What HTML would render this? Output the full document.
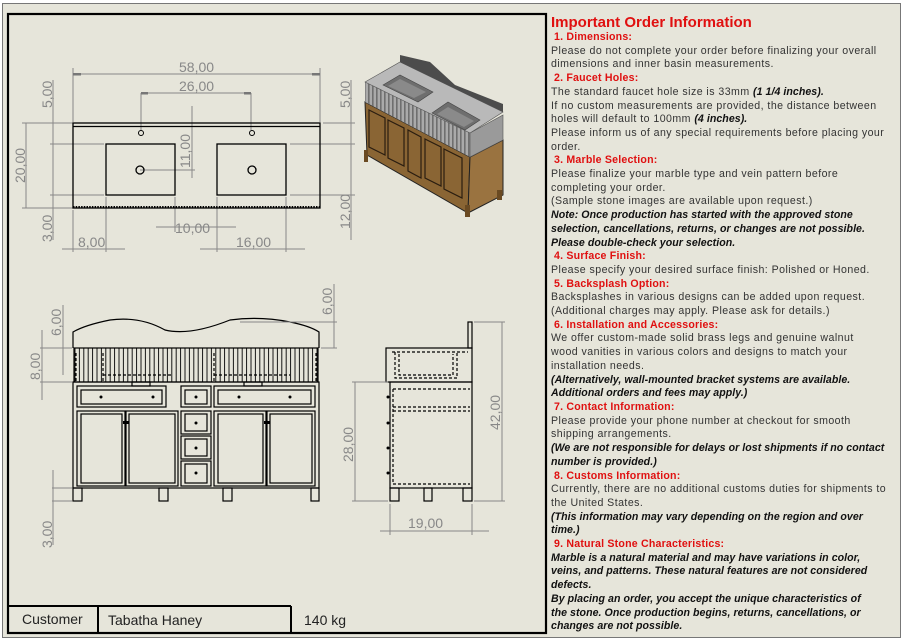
<!DOCTYPE html>
<html><head><meta charset="utf-8"><style>
html,body{margin:0;padding:0;}
body{width:903px;height:641px;position:relative;background:#fff;overflow:hidden;font-family:"Liberation Sans",sans-serif;}
#pg{position:absolute;left:2px;top:3px;width:897px;height:633px;background:#e6e5da;border:1px solid #777;}
#info{position:absolute;left:551px;top:14px;font-size:10.6px;line-height:13.7px;color:#333;white-space:nowrap;letter-spacing:0.45px;}
#info .t{font-size:15px;font-weight:bold;color:#e01010;line-height:18px;margin-bottom:-1px;letter-spacing:0;}
#info .h{color:#e01010;font-weight:bold;padding-left:3px;letter-spacing:0.2px;}
#info .b{font-weight:bold;font-style:italic;color:#111;letter-spacing:0.05px;}
svg{position:absolute;left:0;top:0;}
</style></head><body>
<div id="pg"></div>
<svg width="903" height="641" viewBox="0 0 903 641">
<defs>
<pattern id="fl" x="74" y="0" width="4.4" height="10" patternUnits="userSpaceOnUse"><line x1="1" y1="0" x2="1" y2="10" stroke="#000" stroke-width="0.9"/></pattern>
<pattern id="fl2" x="0" y="0" width="4" height="10" patternUnits="userSpaceOnUse" patternTransform="skewY(27)"><rect x="0" y="0" width="1.6" height="10" fill="#6f6f6f"/></pattern>
</defs>
<rect x="8" y="14" width="538" height="619" fill="none" stroke="#000" stroke-width="2.2"/>
<line x1="8" y1="606" x2="291" y2="606" stroke="#000" stroke-width="2"/>
<line x1="98" y1="606" x2="98" y2="633" stroke="#000" stroke-width="2"/>
<line x1="291" y1="606" x2="291" y2="633" stroke="#000" stroke-width="2"/>
<g font-family="Liberation Sans" font-size="14" fill="#222">
<text x="22" y="624">Customer</text><text x="108" y="625">Tabatha Haney</text><text x="304" y="625">140 kg</text></g>

<g stroke="#888" stroke-width="1" fill="none">
<line x1="73" y1="68" x2="73" y2="122"/><line x1="320" y1="68" x2="320" y2="122"/>
<line x1="73" y1="74" x2="320" y2="74"/>
<line x1="141" y1="93" x2="251" y2="93"/><line x1="141" y1="93" x2="141" y2="130"/><line x1="251" y1="93" x2="251" y2="130"/>
<line x1="192" y1="106" x2="192" y2="178"/><line x1="140" y1="170" x2="195" y2="170"/>
<line x1="53" y1="80" x2="53" y2="240"/><line x1="26" y1="123" x2="26" y2="208"/>
<line x1="22" y1="123" x2="73" y2="123"/><line x1="22" y1="208" x2="73" y2="208"/>
<line x1="50" y1="144" x2="104" y2="144"/><line x1="50" y1="195" x2="104" y2="195"/>
<line x1="62" y1="249" x2="125" y2="249"/><line x1="73" y1="210" x2="73" y2="252"/><line x1="106" y1="197" x2="106" y2="252"/>
<line x1="156" y1="227" x2="236" y2="227"/><line x1="175" y1="197" x2="175" y2="232"/><line x1="217" y1="197" x2="217" y2="252"/>
<line x1="200" y1="249" x2="305" y2="249"/><line x1="286" y1="197" x2="286" y2="252"/>
<line x1="323" y1="123" x2="355" y2="123"/><line x1="290" y1="144" x2="355" y2="144"/><line x1="290" y1="195" x2="355" y2="195"/>
<line x1="351" y1="80" x2="351" y2="240"/>
</g>
<g fill="#777"><rect x="73" y="73" width="8" height="2.5"/><rect x="312" y="73" width="8" height="2.5"/><rect x="141" y="92" width="7" height="2.5"/><rect x="244" y="92" width="7" height="2.5"/></g>
<g font-family="Liberation Sans" font-size="14" fill="#888">
<text x="179" y="72">58,00</text><text x="179" y="91">26,00</text>
<text x="175" y="233">10,00</text><text x="78" y="247">8,00</text><text x="236" y="247">16,00</text>
<text transform="translate(52,108) rotate(-90)">5,00</text>
<text transform="translate(25,183) rotate(-90)">20,00</text>
<text transform="translate(52,242) rotate(-90)">3,00</text>
<text transform="translate(190,168) rotate(-90)">11,00</text>
<text transform="translate(350,108) rotate(-90)">5,00</text>
<text transform="translate(350,229) rotate(-90)">12,00</text>
</g>
<g stroke="#000" fill="none" stroke-width="1.3">
<rect x="73" y="123" width="247" height="85"/><line x1="73" y1="126.5" x2="320" y2="126.5"/>
<rect x="106" y="144" width="69" height="51"/><rect x="217" y="144" width="69" height="51"/>
<circle cx="141" cy="133" r="2.5" stroke-width="1"/><circle cx="252" cy="133" r="2.5" stroke-width="1"/>
<circle cx="140" cy="170" r="4"/><circle cx="252" cy="170" r="4"/>
<line x1="73" y1="207" x2="320" y2="207" stroke-dasharray="1.5 1.2" stroke-width="2"/>
</g>

<polygon points="365,102 470,157 468,213 367,155" fill="#8a6534" stroke="#222"/>
<polygon points="470,157 503,140 503,195 468,213" fill="#9a7340" stroke="#222"/>
<g fill="none" stroke="#2a1d10" stroke-width="1.2">
<polygon points="369,110 385,118 385,155 369,147"/><polygon points="388,120 404,128 404,166 388,158"/>
<polygon points="425,139 441,147 441,186 425,178"/><polygon points="444,149 462,158 462,198 444,189"/>
<polygon points="408,130 421,137 421,178 408,171"/>
</g>
<rect x="364" y="150" width="4" height="12" fill="#6a4a22"/><rect x="465" y="205" width="5" height="12" fill="#6a4a22"/><rect x="497" y="190" width="5" height="10" fill="#6a4a22"/>
<polygon points="365,82 470,133 470,157 365,102" fill="#aaa"/>
<polygon points="365,82 470,133 470,157 365,102" fill="url(#fl2)"/>
<polygon points="470,133 503,115 503,140 470,157" fill="#9a9a9a" stroke="#555" stroke-width="0.6"/>
<polygon points="365,82 400,62 503,112 470,133" fill="#b9b9b9" stroke="#555" stroke-width="0.6"/>
<polygon points="400,62 400,55 430,62 455,85 503,104 503,112" fill="#4c4c4c"/>
<polygon points="383,85 400,75 433,92 418,102" fill="#6e6e6e" stroke="#444" stroke-width="0.6"/>
<polygon points="388,86 400,79 426,92 414,98" fill="#8a8a8a"/>
<polygon points="432,113 448,102 480,120 465,130" fill="#6e6e6e" stroke="#444" stroke-width="0.6"/>
<polygon points="437,114 448,107 474,121 464,127" fill="#8a8a8a"/>

<g stroke="#000" fill="none" stroke-width="1.2">
<path d="M73,348 L73,332 Q85,325 110,320 Q140,316 165,330 Q190,336 230,320 Q260,316 290,322 Q310,326 319,332 L319,348"/>
<rect x="74" y="348" width="244" height="34" fill="url(#fl)" stroke-width="1.2"/>
<rect x="73" y="382" width="246" height="106"/>
<rect x="77" y="386" width="89" height="21"/><rect x="81" y="390" width="81" height="14"/>
<rect x="181" y="386" width="30" height="21"/><rect x="185" y="390" width="22" height="14"/>
<rect x="214" y="386" width="101" height="21"/><rect x="218" y="390" width="93" height="14"/>
<rect x="77" y="411" width="48" height="75"/><rect x="81" y="414" width="41" height="69"/>
<rect x="126" y="411" width="52" height="75"/><rect x="129" y="414" width="46" height="69"/>
<rect x="181" y="411" width="30" height="23"/><rect x="185" y="414" width="22" height="17"/>
<rect x="181" y="436" width="30" height="23"/><rect x="185" y="439" width="22" height="17"/>
<rect x="181" y="461" width="30" height="25"/><rect x="185" y="464" width="22" height="19"/>
<rect x="214" y="411" width="52" height="75"/><rect x="218" y="414" width="45" height="69"/>
<rect x="267" y="411" width="48" height="75"/><rect x="270" y="414" width="42" height="69"/>
<rect x="73" y="488" width="9" height="13"/><rect x="159" y="488" width="9" height="13"/><rect x="223" y="488" width="9" height="13"/><rect x="311" y="488" width="8" height="13"/>
<path d="M76,353 V381 M103,353 V381 M214,353 V381 M316,353 V381 M103,375 H173 M214,375 H290" stroke-dasharray="3 2"/>
<rect x="132" y="382" width="18" height="4"/><rect x="244" y="382" width="18" height="4"/>
<rect x="386" y="348" width="86" height="34"/>
<rect x="468" y="322" width="4" height="26"/>
<rect x="390" y="382" width="82" height="106"/>
<path d="M392,352 H468 M395,352 V378 H457 V352 M399,354 V375 H453 V354 M393,389 H470 M393,407 H470 M393,411 H470 M393,484 H470 M393,389 V484" stroke-dasharray="3 2"/>
<rect x="390" y="488" width="9" height="13"/><rect x="424" y="488" width="8" height="13"/><rect x="463" y="488" width="9" height="13"/>
</g>
<g fill="#000"><circle cx="101" cy="397" r="1.5"/><circle cx="153" cy="397" r="1.5"/><circle cx="196" cy="397" r="1.5"/><circle cx="239" cy="397" r="1.5"/><circle cx="290" cy="397" r="1.5"/>
<circle cx="196" cy="423" r="1.5"/><circle cx="196" cy="448" r="1.5"/><circle cx="196" cy="473" r="1.5"/>
<rect x="123" y="421" width="6" height="3"/><rect x="264" y="421" width="6" height="3"/>
<circle cx="388" cy="397" r="1.5"/><circle cx="388" cy="423" r="1.5"/><circle cx="388" cy="448" r="1.5"/><circle cx="388" cy="473" r="1.5"/></g>
<g stroke="#888" fill="none" stroke-width="1">
<line x1="334" y1="284" x2="334" y2="348"/><line x1="240" y1="322" x2="337" y2="322"/><line x1="321" y1="348" x2="337" y2="348"/>
<line x1="63" y1="305" x2="63" y2="375"/><line x1="42" y1="330" x2="42" y2="400"/>
<line x1="40" y1="348" x2="72" y2="348"/><line x1="40" y1="382" x2="72" y2="382"/>
<line x1="53" y1="470" x2="53" y2="545"/><line x1="52" y1="488" x2="72" y2="488"/><line x1="52" y1="501" x2="72" y2="501"/>
<line x1="355" y1="382" x2="355" y2="501"/><line x1="352" y1="382" x2="388" y2="382"/><line x1="352" y1="501" x2="388" y2="501"/>
<line x1="502" y1="322" x2="502" y2="501"/><line x1="474" y1="322" x2="505" y2="322"/><line x1="474" y1="501" x2="505" y2="501"/>
<line x1="380" y1="531" x2="489" y2="531"/><line x1="390" y1="504" x2="390" y2="535"/><line x1="472" y1="504" x2="472" y2="535"/>
</g>
<g font-family="Liberation Sans" font-size="14" fill="#888">
<text transform="translate(332,315) rotate(-90)">6,00</text>
<text transform="translate(61,336) rotate(-90)">6,00</text>
<text transform="translate(40,380) rotate(-90)">8,00</text>
<text transform="translate(52,548) rotate(-90)">3,00</text>
<text transform="translate(353,462) rotate(-90)">28,00</text>
<text transform="translate(500,430) rotate(-90)">42,00</text>
<text x="408" y="528">19,00</text>
</g>
</svg>
<div id="info">
<div class="t">Important Order Information</div>
<div class="h">1. Dimensions:</div>
Please do not complete your order before finalizing your overall<br>dimensions and inner basin measurements.<br>
<div class="h">2. Faucet Holes:</div>
The standard faucet hole size is 33mm <span class="b">(1 1/4 inches).</span><br>If no custom measurements are provided, the distance between<br>holes will default to 100mm <span class="b">(4 inches).</span><br>Please inform us of any special requirements before placing your<br>order.<br>
<div class="h">3. Marble Selection:</div>
Please finalize your marble type and vein pattern before<br>completing your order.<br>(Sample stone images are available upon request.)<br>
<span class="b">Note: Once production has started with the approved stone<br>selection, cancellations, returns, or changes are not possible.<br>Please double-check your selection.</span><br>
<div class="h">4. Surface Finish:</div>
Please specify your desired surface finish: Polished or Honed.<br>
<div class="h">5. Backsplash Option:</div>
Backsplashes in various designs can be added upon request.<br>(Additional charges may apply. Please ask for details.)<br>
<div class="h">6. Installation and Accessories:</div>
We offer custom-made solid brass legs and genuine walnut<br>wood vanities in various colors and designs to match your<br>installation needs.<br>
<span class="b">(Alternatively, wall-mounted bracket systems are available.<br>Additional orders and fees may apply.)</span><br>
<div class="h">7. Contact Information:</div>
Please provide your phone number at checkout for smooth<br>shipping arrangements.<br>
<span class="b">(We are not responsible for delays or lost shipments if no contact<br>number is provided.)</span><br>
<div class="h">8. Customs Information:</div>
Currently, there are no additional customs duties for shipments to<br>the United States.<br>
<span class="b">(This information may vary depending on the region and over<br>time.)</span><br>
<div class="h">9. Natural Stone Characteristics:</div>
<span class="b">Marble is a natural material and may have variations in color,<br>veins, and patterns. These natural features are not considered<br>defects.<br>By placing an order, you accept the unique characteristics of<br>the stone. Once production begins, returns, cancellations, or<br>changes are not possible.</span>
</div>
</body></html>
